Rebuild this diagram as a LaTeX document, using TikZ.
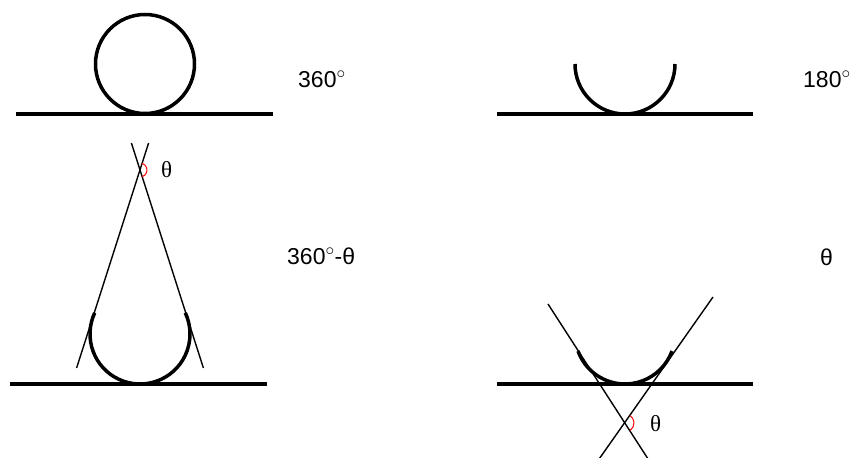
\documentclass[tikz,border=0pt]{standalone}
\usepackage{fontspec}
\setmainfont{Liberation Sans}
\newfontfamily\serifgr{Liberation Serif}
\begin{document}
\begin{tikzpicture}[x=1pt,y=1pt,
  thickline/.style={line width=3.5pt},
  thinline/.style={line width=1.4pt},
  redarc/.style={red,line width=1pt},
  lbl/.style={anchor=base west,inner sep=0pt,font=\fontsize{23}{26}\selectfont},
  thlbl/.style={anchor=base west,inner sep=0pt,font=\serifgr\fontsize{23}{26}\selectfont}]
\useasboundingbox (0,0) rectangle (852,458);
% top-left: full circle
\draw[thickline] (16,344) -- (273,344);
\draw[thickline] (145,394) circle (49.5);
\node[lbl] (l360) at (298,370) {360$^\circ$};
% top-right: semicircle
\draw[thickline] (497,344) -- (753,344);
\draw[thickline] (575,394) arc[start angle=180,end angle=360,radius=50];
\node[lbl] (l180) at (803,370) {180$^\circ$};
% middle-left: 360-theta
\coordinate (apexA) at (140,288);
\coordinate (A1) at (148.6,315);
\coordinate (A2) at (76.6,90);
\coordinate (A3) at (131.4,315);
\coordinate (A4) at (203.4,90);
\draw[thinline] (A1) -- (A2);
\draw[thinline] (A3) -- (A4);
\draw[redarc] ([shift={(-72:7)}]apexA) arc[start angle=-72,end angle=72,radius=7];
\node[thlbl] (thA) at (161,280) {θ};
\draw[thickline] (10,74) -- (267,74);
\draw[thickline] ([shift={(155:50)}]140,124) arc[start angle=155,end angle=385,radius=50];
\node[lbl] (l360t) at (287,193) {360$^\circ$-θ};
\node[lbl] (lth) at (820,192) {θ};
% bottom-right: theta
\draw[thickline] (497,74) -- (753,74);
\draw[thickline] ([shift={(200:50)}]625,124) arc[start angle=200,end angle=340,radius=50];
\coordinate (apexB) at (625,35);
\coordinate (B1) at (548,154);
\coordinate (B2) at (650,-4);
\coordinate (B3) at (713,161);
\coordinate (B4) at (597,-4);
\draw[thinline] (B1) -- (B2);
\draw[thinline] (B3) -- (B4);
\draw[redarc] ([shift={(-56:9)}]apexB) arc[start angle=-56,end angle=56,radius=9];
\node[thlbl] (thB) at (650,26) {θ};
\end{tikzpicture}
\end{document}
